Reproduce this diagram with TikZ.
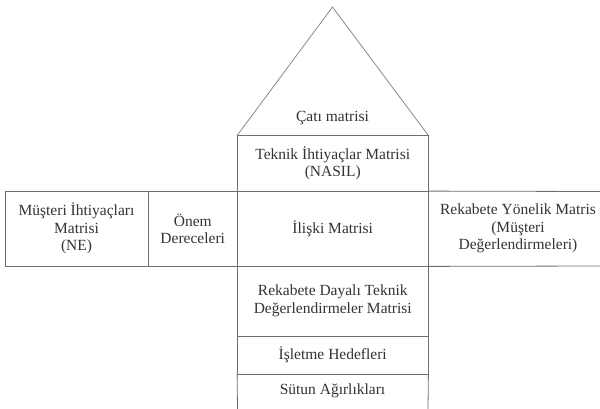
\documentclass[tikz,border=0pt]{standalone}
\usepackage{fontspec}
\setmainfont{Liberation Serif}
\definecolor{linec}{HTML}{6E6E6E}
\definecolor{roofc}{HTML}{8A8A8A}
\definecolor{textc}{HTML}{333333}
\begin{document}
\begin{tikzpicture}[x=1pt,y=-1pt,
  every node/.style={text=textc,font=\fontsize{15.5}{17.5}\selectfont,align=center,inner sep=0pt},
  box/.style={draw=linec,line width=0.8pt,rectangle},
  lbl/.style={}]
\useasboundingbox (0,0) rectangle (600,409);
% roof
\coordinate (apex) at (332.5,7);
\coordinate (rl) at (237.5,135);
\coordinate (rr) at (428,135);
\draw[roofc,line width=0.8pt,line join=miter] (rl) -- (apex) -- (rr);
\node[lbl] (cati) at (332.5,118) {Çatı matrisi};
% centre column
\node[box,minimum width=190.5pt,minimum height=56.5pt] (teknik) at (332.75,163.25) {Teknik İhtiyaçlar Matrisi\\(NASIL)};
\node[box,minimum width=190.5pt,minimum height=74.5pt] (iliski) at (332.75,228.75) {İlişki Matrisi};
\node[box,minimum width=190.5pt,minimum height=70pt] (dayali) at (332.75,301) {Rekabete Dayalı Teknik\\Değerlendirmeler Matrisi};
\node[box,minimum width=190.5pt,minimum height=38pt] (isletme) at (332.75,355) {İşletme Hedefleri};
\coordinate (sl) at (237.5,409);
\coordinate (sr) at (428,409);
\draw[linec,line width=0.8pt] (isletme.south west) -- (sl);
\draw[linec,line width=0.8pt] (isletme.south east) -- (sr);
\node[lbl] (sutun) at (332.5,391) {Sütun Ağırlıkları};
% left
\node[box,minimum width=143pt,minimum height=74.5pt] (musteri) at (76.5,228.75) {Müşteri İhtiyaçları\\Matrisi\\(NE)};
\node[box,minimum width=89.5pt,minimum height=74.5pt] (onem) at (192.75,228.75) {Önem\\Dereceleri};
% right
\coordinate (rt) at (600,191.5);
\coordinate (rb) at (600,266);
\draw[linec,line width=0.8pt] (iliski.north east) -- (rt);
\draw[linec,line width=0.8pt] (iliski.south east) -- (rb);
\node[lbl] (rekabet) at (518,228.5) {Rekabete Yönelik Matris\\(Müşteri\\Değerlendirmeleri)};
\end{tikzpicture}
\end{document}
